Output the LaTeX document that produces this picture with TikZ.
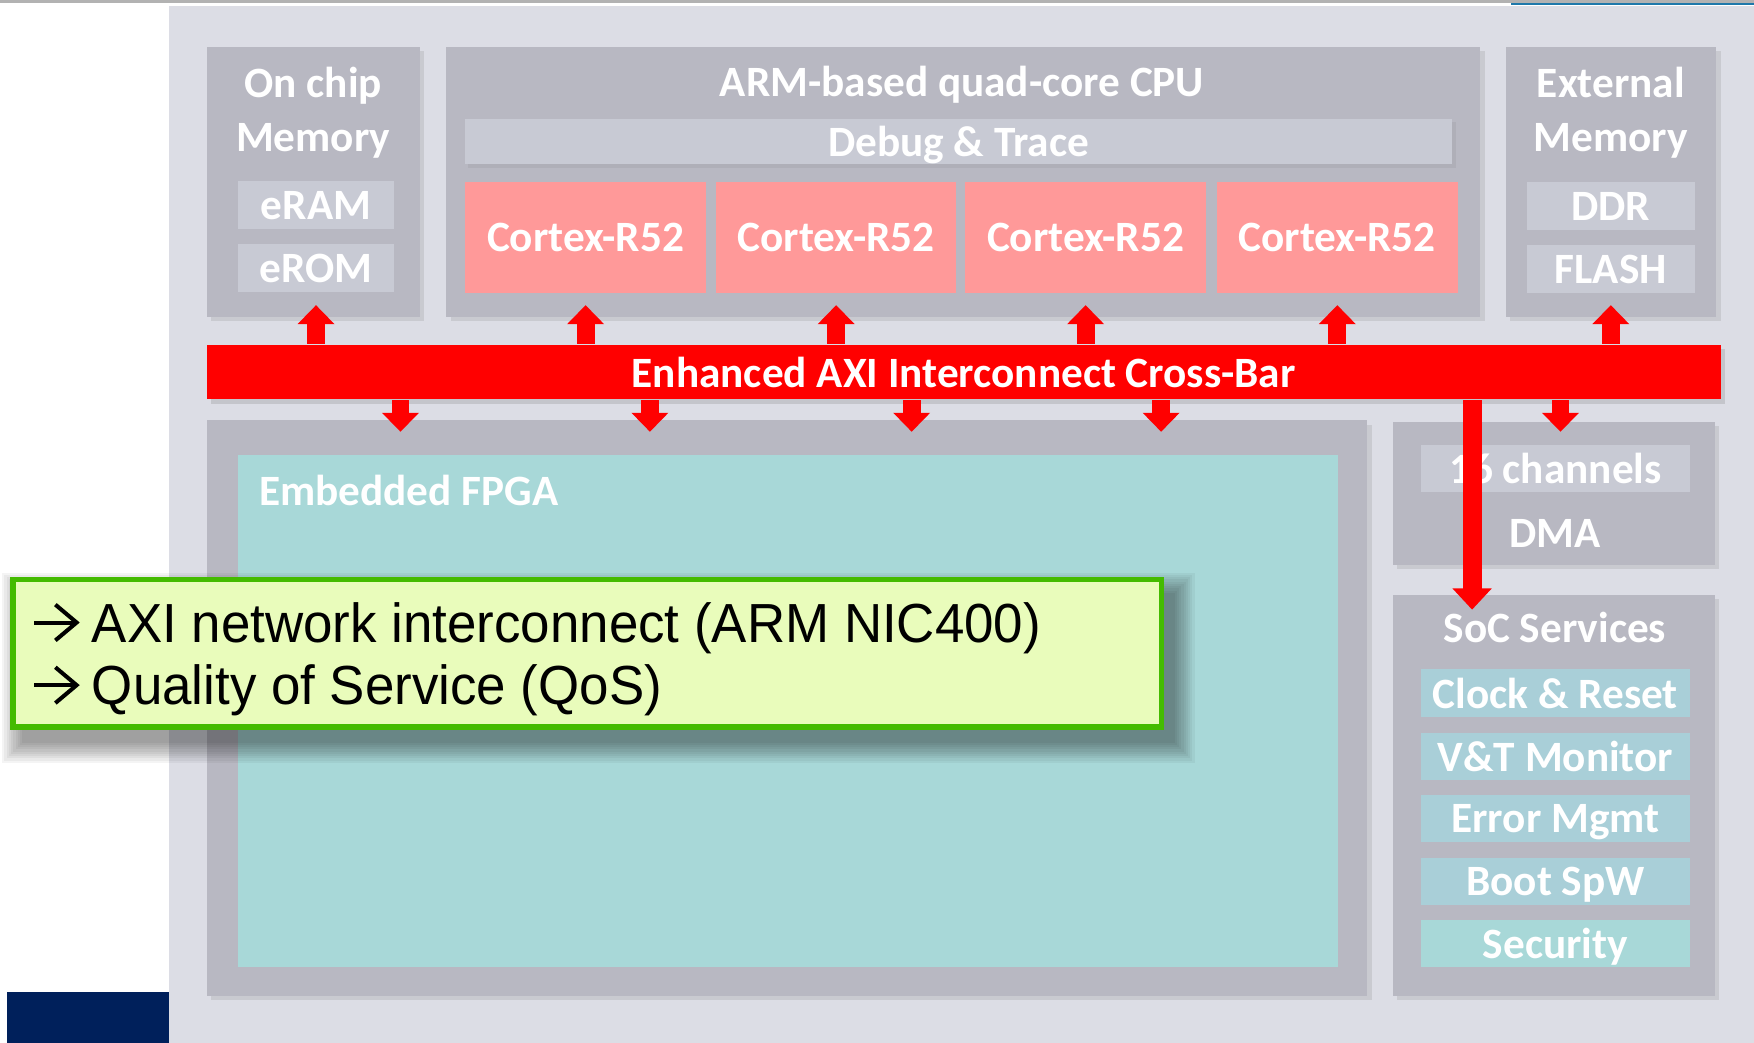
\documentclass[tikz,border=0pt]{standalone}
\usepackage{fontspec}
\setmainfont{Carlito}
\newfontfamily\calloutfont{Liberation Sans}[FakeStretch=0.96]
\usepackage{xcolor}
\usetikzlibrary{arrows.meta,shadows}
\definecolor{panelgray}{RGB}{220,221,229}
\definecolor{boxgray}{RGB}{184,184,194}
\definecolor{subgray}{RGB}{200,202,212}
\definecolor{coresalmon}{RGB}{255,153,153}
\definecolor{fpgateal}{RGB}{168,216,216}
\definecolor{svcblue}{RGB}{169,207,216}
\definecolor{navyblue}{RGB}{0,32,91}
\definecolor{notefill}{RGB}{233,252,187}
\definecolor{noteline}{RGB}{68,187,0}
\definecolor{topblue}{RGB}{30,120,170}

\begin{document}
\begin{tikzpicture}[x=0.01cm,y=-0.01cm,
    lbl/.style={text=white,text depth=0pt,font=\fontsize{11}{13.7}\selectfont\bfseries},
    block/.style={fill=boxgray,inner sep=0pt,
      drop shadow={shadow xshift=0.04cm,shadow yshift=-0.04cm,opacity=0.2}},
    sub/.style={fill=subgray,inner sep=0pt,lbl},
    core/.style={fill=coresalmon,inner sep=0pt,lbl,minimum width=2.15cm,minimum height=0.99cm},
    svc/.style={fill=svcblue,inner sep=0pt,lbl,minimum width=2.41cm,minimum height=0.42cm},
    bus/.style={draw=red,line width=0.16cm,-{Triangle[width=0.32cm,length=0.17cm]}},
    notetext/.style={font=\calloutfont\fontsize{14}{17}\selectfont,anchor=base west,inner sep=0pt},
    notearrow/.style={draw=black,line width=0.036cm,miter limit=10}]
      \useasboundingbox (0,0) rectangle (1568,932);
      \fill[white] (0,0) rectangle (1568,932);
      \fill[panelgray] (151,5) rectangle (1568,932);
      \fill[navyblue] (6,887) rectangle (151,932);
      \draw[gray!60,line width=0.03cm] (0,1.5) -- (1568,1.5);
      \draw[topblue,line width=0.02cm] (1351,3.5) -- (1568,3.5);

      \node[block,minimum width=1.9cm,minimum height=2.41cm] (onchip) at (280,162.5) {};
      \node[lbl,align=center] (onchiptitle) at (280,98) {On chip\\Memory};
      \node[sub,minimum width=1.39cm,minimum height=0.43cm] (eram) at (282.5,183.5) {eRAM};
      \node[sub,minimum width=1.39cm,minimum height=0.43cm] (erom) at (282.5,239.5) {eROM};

      \node[block,minimum width=9.24cm,minimum height=2.41cm] (cpu) at (861,162.5) {};
      \node[lbl] (cputitle) at (860,73) {ARM-based quad-core CPU};
      \node[sub,minimum width=8.82cm,minimum height=0.41cm,
        drop shadow={shadow xshift=0.03cm,shadow yshift=-0.03cm,opacity=0.15}] (debug) at (857,126.5) {Debug \& Trace};
      \foreach \i/\x in {1/523.5,2/747.5,3/970.5,4/1195.5}
        \node[core] (core\i) at (\x,212.5) {Cortex-R52};

      \node[block,minimum width=1.88cm,minimum height=2.41cm] (extmem) at (1440,162.5) {};
      \node[lbl,align=center] (exttitle) at (1440,98) {External\\Memory};
      \node[sub,minimum width=1.5cm,minimum height=0.43cm] (ddr) at (1440,184.5) {DDR};
      \node[sub,minimum width=1.5cm,minimum height=0.43cm] (flash) at (1440,240.5) {FLASH};

      \node[block,minimum width=10.37cm,minimum height=5.14cm] (fpga) at (703.5,633) {};
      \node[fill=fpgateal,inner sep=0pt,minimum width=9.83cm,minimum height=4.57cm] (fabric) at (704.5,635.5) {};
      \node[lbl,anchor=west,inner sep=0pt] (fpgatitle) at (231,438) {Embedded FPGA};

      \node[block,minimum width=2.88cm,minimum height=1.28cm] (dma) at (1389,441) {};
      \node[sub,minimum width=2.41cm,minimum height=0.42cm] (chan) at (1390.5,419) {16 channels};
      \node[lbl] (dmatitle) at (1390,477) {DMA};

      \node[block,minimum width=2.88cm,minimum height=3.58cm] (soc) at (1389,711) {};
      \node[lbl] (soctitle) at (1390,561) {SoC Services};
      \foreach \n/\y/\t in {clk/619.5/Clock \& Reset,vt/676/V\&T Monitor,
        err/732/Error Mgmt,boot/788/Boot SpW}
        \node[svc] (\n) at (1390.5,\y) {\t};
      \node[svc,fill=fpgateal] (sec) at (1390.5,843) {Security};

      \node[lbl,fill=red,inner sep=0pt,minimum width=13.53cm,minimum height=0.49cm,
        drop shadow={shadow xshift=0.04cm,shadow yshift=-0.04cm,opacity=0.25}] (xbar) at (861.5,332.5) {Enhanced AXI Interconnect Cross-Bar};

      \foreach \n in {eram,core1,core2,core3,core4,flash}
        \draw[bus] (xbar.north -| \n) -- ([yshift=0.11cm]cpu.south -| \n);
      \foreach \x [count=\i] in {358,581,815,1038}
        \coordinate (fpgaport\i) at (\x,386);
      \coordinate (dmaport) at (1395,386);
      \coordinate (socport) at (1316,545);
      \foreach \p in {fpgaport1,fpgaport2,fpgaport3,fpgaport4,dmaport}
        \draw[bus] (xbar.south -| \p) -- (\p);
      \draw[bus,line width=0.17cm,-{Triangle[width=0.34cm,length=0.19cm]}] (xbar.south -| socport) -- (socport);

      \foreach \e in {0,...,9}
        \fill[black,opacity=0.045] (20-2*\e,530-2*\e) rectangle (1050+2*\e,664+2*\e);
      \node[draw=noteline,line width=0.05cm,fill=notefill,inner sep=0pt,
        minimum width=10.26cm,minimum height=1.32cm] (note) at (525,584) {};
      \node[notetext] (note1) at (81.5,574) {AXI network interconnect (ARM NIC400)};
      \node[notetext] (note2) at (81.5,630) {Quality of Service (QoS)};
      \foreach \n in {note1,note2} {
        \draw[notearrow] ([xshift=-0.13cm,yshift=0.175cm]\n.base west) coordinate (\n tip)
          ++(-19,-16) -- (\n tip) -- ++(-19,16);
        \draw[notearrow] (\n tip) -- ++(-38,0);
      }
    \end{tikzpicture}
\end{document}
